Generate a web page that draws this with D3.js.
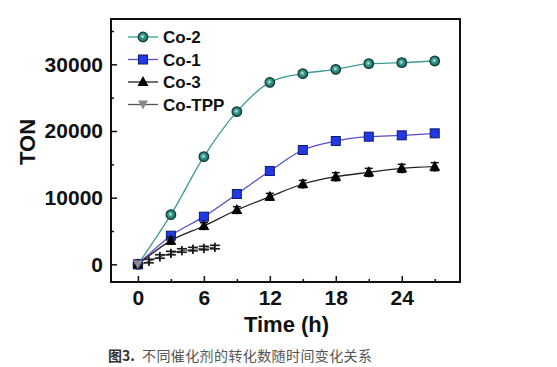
<!DOCTYPE html>
<html><head><meta charset="utf-8">
<script src="https://cdn.jsdelivr.net/npm/d3@7"></script>
<style>body{margin:0;background:#fff}svg{display:block}</style>
</head><body>
<svg id="c" width="557" height="367"></svg>
<script>
const timesMain = [0, 3, 6, 9, 12, 15, 18, 21, 24, 27];
const co2 = [0, 7450, 16150, 22900, 27300, 28600, 29250, 30100, 30250, 30500];
const co1 = [0, 4300, 7150, 10550, 14000, 17150, 18500, 19150, 19350, 19650];
const co3 = [0, 3550, 5750, 8150, 10150, 12050, 13150, 13800, 14400, 14650];
const timesTPP = [0, 1, 2, 3, 4, 5, 6, 7];
const coTPP = [0, 450, 1140, 1650, 2040, 2250, 2400, 2550];
const err2 = [300, 300, 300, 300, 300, 350, 400, 450, 500, 500];
const err1 = [300, 350, 350, 350, 350, 400, 450, 450, 500, 500];
const err3 = [300, 500, 500, 500, 500, 550, 600, 600, 600, 600];
const errTPP = [300, 700, 700, 700, 700, 700, 700, 700];
const xTicks = [0, 6, 12, 18, 24];
const yTicks = [0, 10000, 20000, 30000];
const legendNames = ["Co-2", "Co-1", "Co-3", "Co-TPP"];

const svg = d3.select("#c");
const L = 111, R = 460, T = 19, B = 282;
const x = d3.scaleLinear().domain([-2.45, 29.3]).range([L, R]);
const y = d3.scaleLinear().domain([-2650, 36800]).range([B, T]);

const defs = svg.append("defs");
const g2 = defs.append("radialGradient").attr("id","sph").attr("cx","45%").attr("cy","45%").attr("r","60%");
g2.append("stop").attr("offset","0%").attr("stop-color","#d8f5ee");
g2.append("stop").attr("offset","35%").attr("stop-color","#3c9d90");
g2.append("stop").attr("offset","100%").attr("stop-color","#155a53");

const series = [
  {name:"Co-2", t:timesMain, v:co2, e:err2, line:"#3f9c8f", fill:"url(#sph)", stroke:"#0f3d39", shape:"circle"},
  {name:"Co-1", t:timesMain, v:co1, e:err1, line:"#5a4ccc", fill:"#1f3ae6", stroke:"#101c6a", shape:"square"},
  {name:"Co-3", t:timesMain, v:co3, e:err3, line:"#222", fill:"#000", stroke:"#000", shape:"triangle"},
  {name:"Co-TPP", t:timesTPP, v:coTPP, e:errTPP, line:"#555", fill:"#8a8a8a", stroke:"#555", shape:"down"}
];

function marker(sel, s, cx, cy) {
  if (s.shape === "circle") {
    sel.append("circle").attr("cx",cx).attr("cy",cy).attr("r",4.8).attr("fill",s.fill).attr("stroke",s.stroke).attr("stroke-width",1.2);
  } else if (s.shape === "square") {
    sel.append("rect").attr("x",cx-4.5).attr("y",cy-4.5).attr("width",9).attr("height",9).attr("fill",s.fill).attr("stroke",s.stroke).attr("stroke-width",1);
  } else if (s.shape === "triangle") {
    sel.append("path").attr("d",`M${cx},${cy-6}L${cx+5.5},${cy+4}L${cx-5.5},${cy+4}Z`).attr("fill",s.fill);
  } else {
    sel.append("path").attr("d",`M${cx-5},${cy-4}L${cx+5},${cy-4}L${cx},${cy+5}Z`).attr("fill",s.fill);
  }
}

// lines
const lineGen = d3.line().curve(d3.curveMonotoneX);
series.forEach(s => {
  const pts = s.t.map((t,i)=>[x(t), y(s.v[i])]);
  svg.append("path").attr("d", lineGen(pts)).attr("fill","none").attr("stroke",s.line).attr("stroke-width",1.3);
});
// error bars + markers
series.forEach(s => {
  const g = svg.append("g");
  s.t.forEach((t,i) => {
    const cx = x(t), cy = y(s.v[i]), y1 = y(s.v[i]+s.e[i]), y0 = y(s.v[i]-s.e[i]);
    if (s.name === "Co-TPP" && i > 0) {
      g.append("line").attr("x1",cx).attr("x2",cx).attr("y1",y1).attr("y2",y0).attr("stroke","#1a1a1a").attr("stroke-width",1.8);
      g.append("line").attr("x1",cx-5).attr("x2",cx+5).attr("y1",cy-2).attr("y2",cy-2).attr("stroke","#1a1a1a").attr("stroke-width",1.6);
      g.append("line").attr("x1",cx-5).attr("x2",cx+5).attr("y1",cy+1.5).attr("y2",cy+1.5).attr("stroke","#1a1a1a").attr("stroke-width",1.6);
      return;
    }
    const ec = "#111", hw = 4;
    g.append("line").attr("x1",cx).attr("x2",cx).attr("y1",y1-1).attr("y2",y0+1).attr("stroke",ec).attr("stroke-width",1.5);
    g.append("line").attr("x1",cx-hw).attr("x2",cx+hw).attr("y1",y1).attr("y2",y1).attr("stroke",ec).attr("stroke-width",1.5);
    g.append("line").attr("x1",cx-hw).attr("x2",cx+hw).attr("y1",y0).attr("y2",y0).attr("stroke",ec).attr("stroke-width",1.5);
    marker(g, s, cx, cy);
  });
});

// frame
svg.append("rect").attr("x",L).attr("y",T).attr("width",R-L).attr("height",B-T).attr("fill","none").attr("stroke","#111").attr("stroke-width",2);

// axes (ticks inward)
const xAxis = d3.axisBottom(x).tickValues(xTicks).tickSize(-6).tickPadding(8).tickFormat(d3.format("d"));
const xMinor = d3.axisBottom(x).tickValues([3,9,15,21,27]).tickSize(-3).tickFormat("");
const yAxis = d3.axisLeft(y).tickValues(yTicks).tickSize(-6).tickPadding(8).tickFormat(d3.format("d"));
const yMinor = d3.axisLeft(y).tickValues([5000,15000,25000,35000]).tickSize(-3).tickFormat("");
function style(g){
  g.select(".domain").remove();
  g.selectAll("line").attr("stroke","#111").attr("stroke-width",1.5);
  g.selectAll("text").attr("font-family","Liberation Sans, Arial, sans-serif").attr("font-weight","bold").attr("font-size",21).attr("fill","#111");
}
svg.append("g").attr("transform",`translate(0,${B})`).call(xAxis).call(style);
svg.append("g").attr("transform",`translate(0,${B})`).call(xMinor).call(style);
svg.append("g").attr("transform",`translate(${L},0)`).call(yAxis).call(style);
svg.append("g").attr("transform",`translate(${L},0)`).call(yMinor).call(style);

// axis titles
svg.append("text").attr("x",(L+R)/2 + 1).attr("y",332).attr("text-anchor","middle")
  .attr("font-family","Liberation Sans, Arial, sans-serif").attr("font-weight","bold").attr("font-size",22).attr("fill","#111").text("Time (h)");
svg.append("text").attr("transform","translate(35,142) rotate(-90)").attr("text-anchor","middle")
  .attr("font-family","Liberation Sans, Arial, sans-serif").attr("font-weight","bold").attr("font-size",22).attr("fill","#111").text("TON");

// legend
const lg = svg.append("g");
series.forEach((s,i) => {
  const cy = 37 + i*22.5;
  lg.append("line").attr("x1",128).attr("x2",158).attr("y1",cy).attr("y2",cy).attr("stroke",s.line).attr("stroke-width",1.3);
  marker(lg, s, 143, cy);
  lg.append("text").attr("x",163).attr("y",cy+6).attr("font-family","Liberation Sans, Arial, sans-serif")
    .attr("font-weight","bold").attr("font-size",17).attr("fill","#111").text(legendNames[i]);
});

// caption
const cap = svg.append("text").attr("x",108).attr("y",361).attr("font-family","Noto Sans CJK SC, sans-serif").attr("font-size",14);
cap.append("tspan").attr("font-weight","bold").attr("fill","#333").text("图3.");
cap.append("tspan").attr("fill","#555").attr("x",142).attr("letter-spacing",0.4).text("不同催化剂的转化数随时间变化关系");
</script>
</body></html>
